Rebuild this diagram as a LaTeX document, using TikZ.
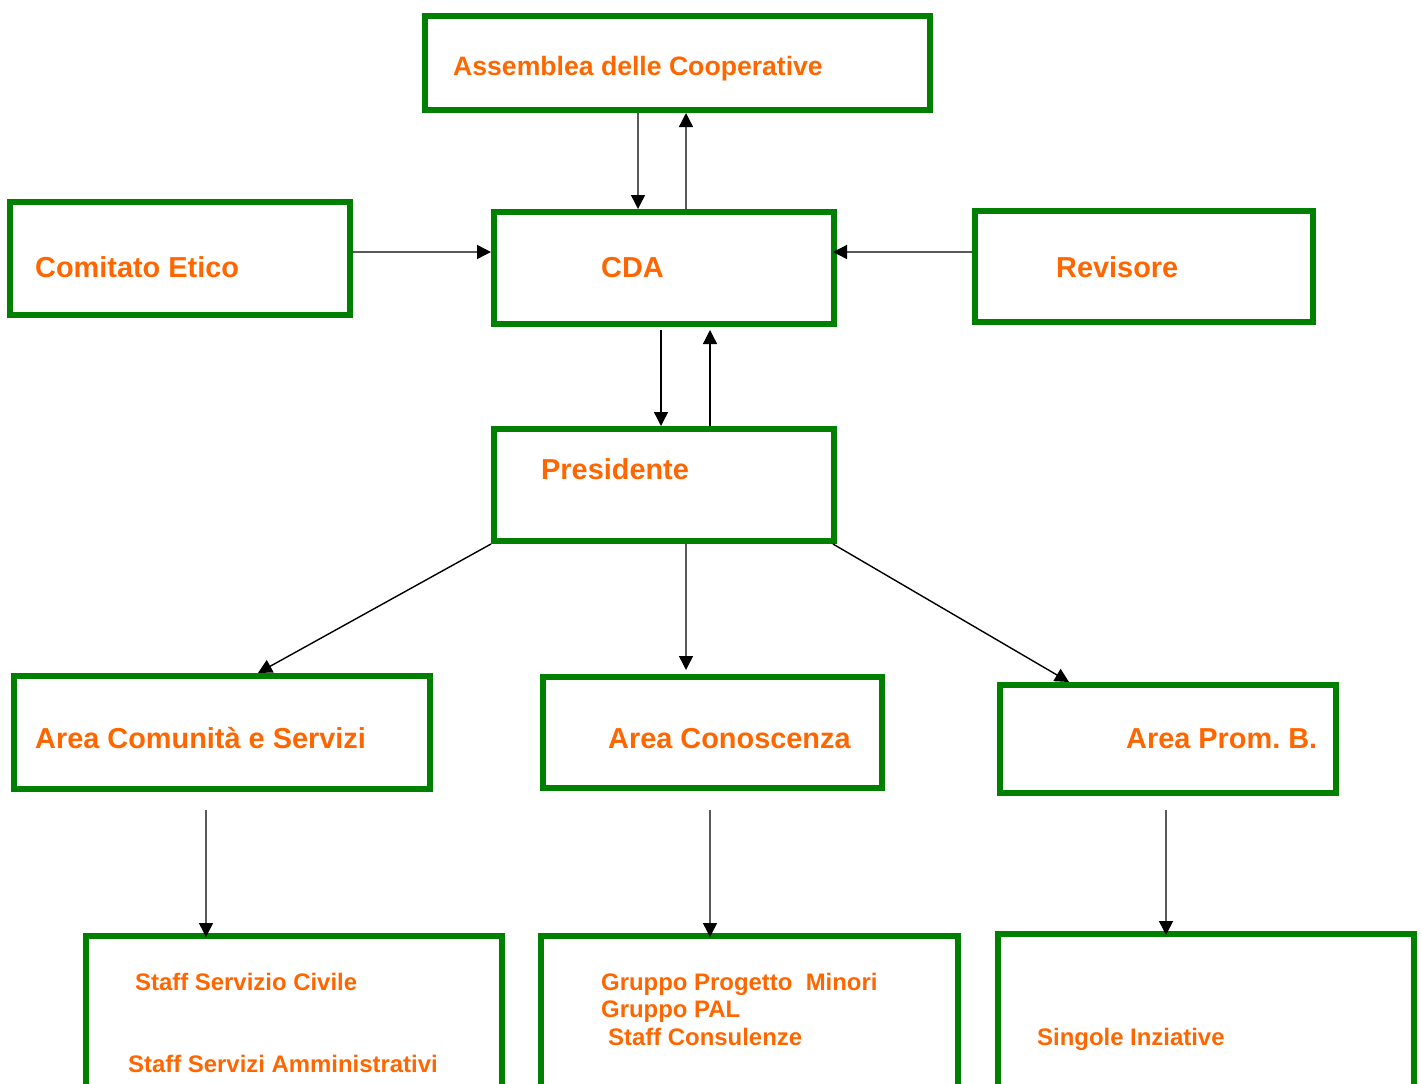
\documentclass[tikz,border=0pt]{standalone}
\usepackage{fontspec}
\setmainfont{Liberation Sans}
\usetikzlibrary{arrows.meta}
\definecolor{boxgreen}{HTML}{008000}
\definecolor{txtorange}{HTML}{FF6600}
\tikzset{
  orgbox/.style={draw=boxgreen, line width=6bp, inner sep=0pt},
  lbl/.style={text=txtorange, anchor=base west, inner sep=0pt, font=\bfseries\fontsize{29}{34}\selectfont},
  lblsmall/.style={lbl, font=\bfseries\fontsize{24}{28}\selectfont},
  arr/.style={-{Triangle[length=14bp,width=14bp]}, line width=1.4bp}
}
\frenchspacing
\begin{document}
\begin{tikzpicture}[x=1bp, y=-1bp]
  \def\Wb{340};
  \def\Hb{112};
  \def\Wl{416}; % wide boxes
  \useasboundingbox (0,0) rectangle (1421,1083);
  \clip (0,0) rectangle (1421,1083);

  % boxes
  \node[orgbox, minimum width=505bp, minimum height=94bp] (asm) at (677.5,63) {};
  \node[orgbox, minimum width=\Wb bp, minimum height=\Hb bp] (cda) at (664,268) {};
  \node[orgbox, minimum width=\Wb bp, minimum height=113bp] (eti) at (180,258.5) {};
  \node[orgbox, minimum width=338bp, minimum height=111bp] (rev) at (1144,266.5) {};
  \node[orgbox, minimum width=\Wb bp, minimum height=\Hb bp] (pres) at (664,485) {};
  \node[orgbox, minimum width=\Wl bp, minimum height=113bp] (acs) at (222,732.5) {};
  \node[orgbox, minimum width=339bp, minimum height=111bp] (acon) at (712.5,732.5) {};
  \node[orgbox, minimum width=336bp, minimum height=108bp] (aprom) at (1168,739) {};
  % bottom row, cut by the page
  \node[orgbox, minimum width=\Wl bp, minimum height=200bp] (staff) at (294,1036) {};
  \node[orgbox, minimum width=417bp, minimum height=200bp] (grp) at (749.5,1036) {};
  \node[orgbox, minimum width=\Wl bp, minimum height=200bp] (sing) at (1206,1034) {};

  % labels
  \node[lbl, font=\bfseries\fontsize{26.7}{31}\selectfont] (asmtxt) at (453,75) {Assemblea delle Cooperative};
  \node[lbl] (cdatxt) at (601,277) {CDA};
  \node[lbl] (etitxt) at (35,277) {Comitato Etico};
  \node[lbl] (revtxt) at (1056,277) {Revisore};
  \node[lbl] (prestxt) at (541,479) {Presidente};
  \node[lbl] (acstxt) at (35,748) {Area Comunità e Servizi};
  \node[lbl] (acontxt) at (608,748) {Area Conoscenza};
  \node[lbl] (apromtxt) at (1126,748) {Area Prom. B.};
  \node[lblsmall] (stafftxta) at (135,990) {Staff Servizio Civile};
  \node[lblsmall] (stafftxtb) at (128,1072) {Staff Servizi Amministrativi};
  \node[lblsmall] (grptxta) at (601,990) {Gruppo Progetto~~Minori};
  \node[lblsmall] (grptxtb) at (601,1017) {Gruppo PAL};
  \node[lblsmall] (grptxtc) at (608,1045) {Staff Consulenze};
  \node[lblsmall] (singtxt) at (1037,1045) {Singole Inziative};

  % assembly and board
  \draw[arr] ([xshift=-39.5bp]asm.south) -- ([xshift=-26bp]cda.north);
  \draw[arr] ([xshift=22bp]cda.north) -- ([xshift=8.5bp]asm.south);
  \draw[arr] ([yshift=6.5bp]eti.east) -- ([yshift=16bp]cda.west);
  \draw[arr] ([yshift=14.5bp]rev.west) -- ([xshift=-4bp,yshift=16bp]cda.east);

  % board and president
  \draw[arr] ([xshift=-3bp,yshift=-3bp]cda.south) -- ([xshift=-3bp]pres.north);
  \draw[arr] ([xshift=46bp]pres.north) -- ([xshift=46bp,yshift=-3bp]cda.south);

  % areas
  \draw[arr] (pres.south west) -- ([xshift=36bp]acs.north);
  \draw[arr] ([xshift=22bp]pres.south) -- ([xshift=-26.5bp,yshift=4bp]acon.north);
  \draw[arr] ([xshift=-4bp]pres.south east) -- ([xshift=-99bp]aprom.north);

  % staff and groups
  \draw[arr] ([xshift=-16bp,yshift=-18bp]acs.south) -- ([xshift=-88bp,yshift=-4bp]staff.north);
  \draw[arr] ([xshift=-2.5bp,yshift=-19bp]acon.south) -- ([xshift=-39.5bp,yshift=-4bp]grp.north);
  \draw[arr] ([xshift=-2bp,yshift=-14bp]aprom.south) -- ([xshift=-40bp,yshift=-4bp]sing.north);
\end{tikzpicture}
\end{document}
